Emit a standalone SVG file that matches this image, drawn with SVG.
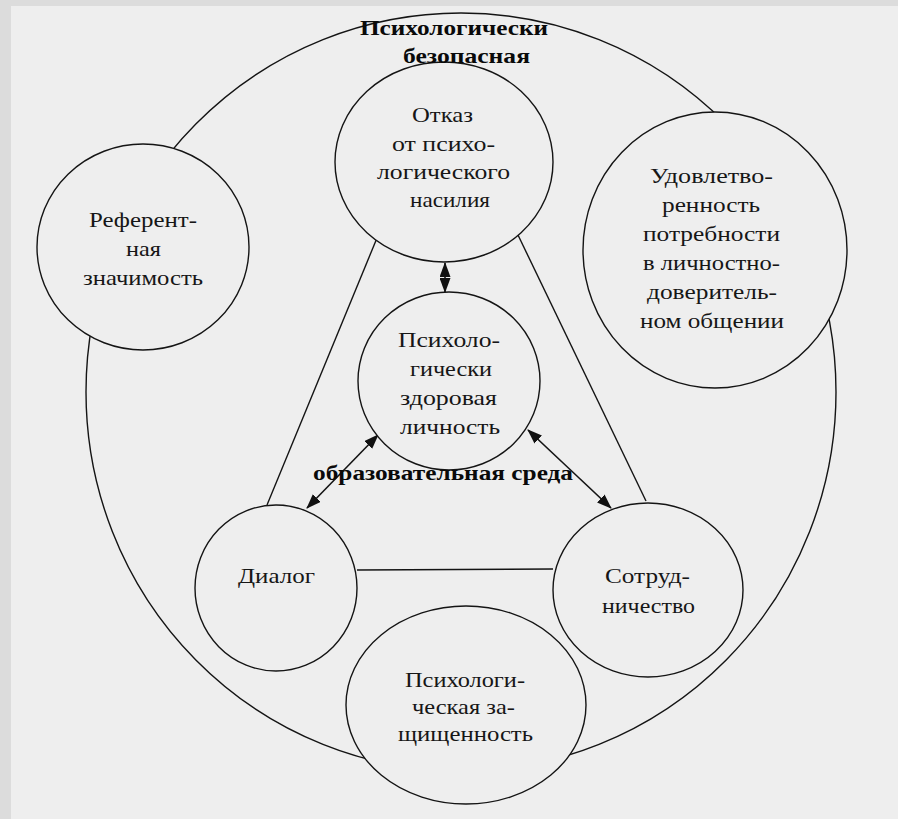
<svg xmlns="http://www.w3.org/2000/svg" width="898" height="819" viewBox="0 0 898 819">
<style>
.n{fill:#eeeeee;stroke:#141414;stroke-width:1.4}
.c{fill:none;stroke:#141414;stroke-width:1.4}
.a{fill:none;stroke:#141414;stroke-width:1.6;marker-start:url(#ah);marker-end:url(#ah)}
.t{font-family:"Liberation Serif","Times New Roman",serif;font-size:22px;fill:#161616}
.b{font-family:"Liberation Serif","Times New Roman",serif;font-size:21px;font-weight:bold;fill:#0a0a0a}
</style>
<defs>
<marker id="ah" markerUnits="userSpaceOnUse" markerWidth="15" markerHeight="11" refX="14" refY="5.5" orient="auto-start-reverse">
<path d="M0,0 L15,5.5 L0,11 z" fill="#111"/>
</marker>
</defs>
<rect x="0" y="0" width="898" height="819" fill="#dcdcdc"/>
<rect x="11" y="6" width="887" height="813" fill="#eeeeee"/>
<g id="environment">
<ellipse class="c" cx="461" cy="392" rx="375" ry="379"/>
</g>
<g id="connectors">
<line class="c" x1="377" y1="238" x2="267" y2="505"/>
<line class="c" x1="518" y1="235" x2="646" y2="501"/>
<line class="c" x1="357" y1="570" x2="553" y2="569"/>
<line class="a" x1="445" y1="263" x2="445" y2="292"/>
<line class="a" x1="378" y1="435" x2="307" y2="508"/>
<line class="a" x1="528" y1="430" x2="611" y2="508"/>
</g>
<g id="refusal">
<ellipse class="n" cx="444" cy="162" rx="109" ry="100"/>
<text class="t" x="412" y="122" textLength="61" lengthAdjust="spacingAndGlyphs">Отказ</text>
<text class="t" x="392" y="151" textLength="103" lengthAdjust="spacingAndGlyphs">от психо-</text>
<text class="t" x="377" y="179" textLength="133" lengthAdjust="spacingAndGlyphs">логического</text>
<text class="t" x="410" y="207" textLength="80" lengthAdjust="spacingAndGlyphs">насилия</text>
</g>
<g id="healthy">
<ellipse class="n" cx="449" cy="381" rx="91" ry="89"/>
<text class="t" x="398" y="347" textLength="102" lengthAdjust="spacingAndGlyphs">Психоло-</text>
<text class="t" x="410" y="376" textLength="82" lengthAdjust="spacingAndGlyphs">гически</text>
<text class="t" x="400" y="405" textLength="97" lengthAdjust="spacingAndGlyphs">здоровая</text>
<text class="t" x="400" y="434" textLength="100" lengthAdjust="spacingAndGlyphs">личность</text>
</g>
<g id="referent">
<ellipse class="n" cx="143" cy="247" rx="106" ry="103"/>
<text class="t" x="89" y="227" textLength="108" lengthAdjust="spacingAndGlyphs">Референт-</text>
<text class="t" x="126" y="256" textLength="35" lengthAdjust="spacingAndGlyphs">ная</text>
<text class="t" x="83" y="285" textLength="120" lengthAdjust="spacingAndGlyphs">значимость</text>
</g>
<g id="satisfaction">
<ellipse class="n" cx="715" cy="250" rx="132" ry="138"/>
<text class="t" x="650" y="183" textLength="123" lengthAdjust="spacingAndGlyphs">Удовлетво-</text>
<text class="t" x="662" y="212" textLength="98" lengthAdjust="spacingAndGlyphs">ренность</text>
<text class="t" x="643" y="241" textLength="137" lengthAdjust="spacingAndGlyphs">потребности</text>
<text class="t" x="643" y="270" textLength="137" lengthAdjust="spacingAndGlyphs">в личностно-</text>
<text class="t" x="647" y="299" textLength="130" lengthAdjust="spacingAndGlyphs">доверитель-</text>
<text class="t" x="640" y="328" textLength="144" lengthAdjust="spacingAndGlyphs">ном общении</text>
</g>
<g id="dialog">
<ellipse class="n" cx="276" cy="588" rx="81" ry="83"/>
<text class="t" x="238" y="583" textLength="77" lengthAdjust="spacingAndGlyphs">Диалог</text>
</g>
<g id="cooperation">
<ellipse class="n" cx="648" cy="590" rx="95" ry="87"/>
<text class="t" x="605" y="583" textLength="85" lengthAdjust="spacingAndGlyphs">Сотруд-</text>
<text class="t" x="602" y="613" textLength="93" lengthAdjust="spacingAndGlyphs">ничество</text>
</g>
<g id="protection">
<ellipse class="n" cx="466" cy="705" rx="120" ry="99"/>
<text class="t" x="405" y="687" textLength="120" lengthAdjust="spacingAndGlyphs">Психологи-</text>
<text class="t" x="412" y="714" textLength="103" lengthAdjust="spacingAndGlyphs">ческая за-</text>
<text class="t" x="398" y="741" textLength="135" lengthAdjust="spacingAndGlyphs">щищенность</text>
</g>
<g id="environment-label">
<text class="b" x="360" y="35" textLength="188" lengthAdjust="spacingAndGlyphs">Психологически</text>
<text class="b" x="403" y="63" textLength="127" lengthAdjust="spacingAndGlyphs">безопасная</text>
<text class="b" x="313" y="480" textLength="260" lengthAdjust="spacingAndGlyphs">образовательная среда</text>
</g>
</svg>
